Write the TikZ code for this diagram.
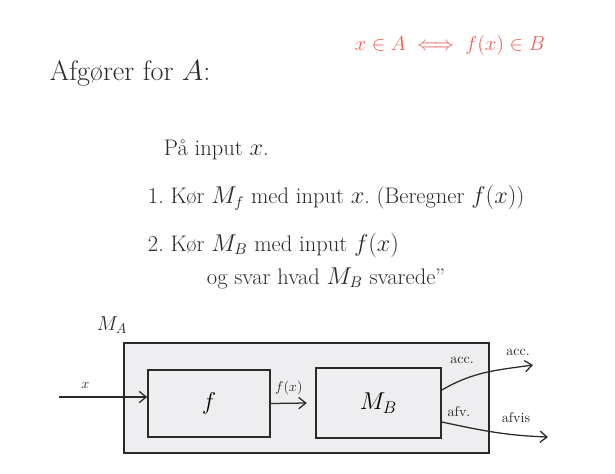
\documentclass[tikz,border=0pt]{standalone}
\usepackage{amsmath,amssymb}
\usepackage{xcolor}
\usetikzlibrary{arrows.meta, positioning, calc}
\definecolor{penred}{HTML}{EE5F57}
\definecolor{boxgray}{HTML}{EEEEF1}
\definecolor{ink}{HTML}{2A2A2A}

\begin{document}
\begin{tikzpicture}[x=0.025cm, y=-0.025cm, >={Straight Barb[length=5pt, width=8pt]}, font=\large,
    txt/.style={anchor=west, font=\fontsize{16}{19}\selectfont, text=ink},
    machine/.style={draw=ink, line width=1.1pt, fill=boxgray},
    flow/.style={->, ink, line width=0.9pt},
    lbl/.style={font=\normalsize, text=ink}]
  \useasboundingbox (0,0) rectangle (615,473);
  \node[txt, font=\fontsize{20}{23}\selectfont] (title) at (45,73) {Afgører for $A$:};
  \node[txt, font=\fontsize{15}{18}\selectfont, text=penred] (iff) at (350,45) {$x \in A \iff f(x) \in B$};
  \node[txt] (intro) at (159,150) {På input $x$.};
  \node[txt] (step1) at (143,198) {1.\ Kør $M_f$ med input $x$.\ (Beregner $f(x)$)};
  \node[txt] (step2) at (143,245) {2.\ Kør $M_B$ med input $f(x)$};
  \node[txt] (step2b) at (202,278) {og svar hvad $M_B$ svarede''};

  \node[machine, minimum width=9.125cm, minimum height=2.75cm] (MA) at (306.5,398) {};
  \node[lbl, font=\Large] (MAlbl) at (112,325) {$M_A$};
  \node[machine, minimum width=3.05cm, minimum height=1.675cm, font=\LARGE] (Mf) at (209,403.5) {$f$};
  \node[machine, minimum width=3.125cm, minimum height=1.75cm, font=\LARGE] (MB) at (378.5,403) {$M_B$};

  \coordinate (xin) at (59,397);
  \coordinate (accout) at (533,365);
  \coordinate (rejout) at (548,437);
  \draw[flow] (xin) -- node[lbl, above=2pt, pos=0.3] {$x$} (xin -| Mf.west);
  \draw[flow] (Mf.east) -- node[lbl, above=2pt] {$f(x)$} ([xshift=-6pt]MB.west);
  \draw[flow] ($(MB.east)+(0,-13)$) to[out=30, in=188] (accout);
  \draw[flow] ($(MB.east)+(0,19)$) to[out=-12, in=178] (rejout);
  \node[lbl] (accin) at (462,360) {acc.};
  \node[lbl] (accex) at (518,352) {acc.};
  \node[lbl] (rejin) at (459,412) {afv.};
  \node[lbl] (rejex) at (516,418) {afvis};
\end{tikzpicture}
\end{document}
